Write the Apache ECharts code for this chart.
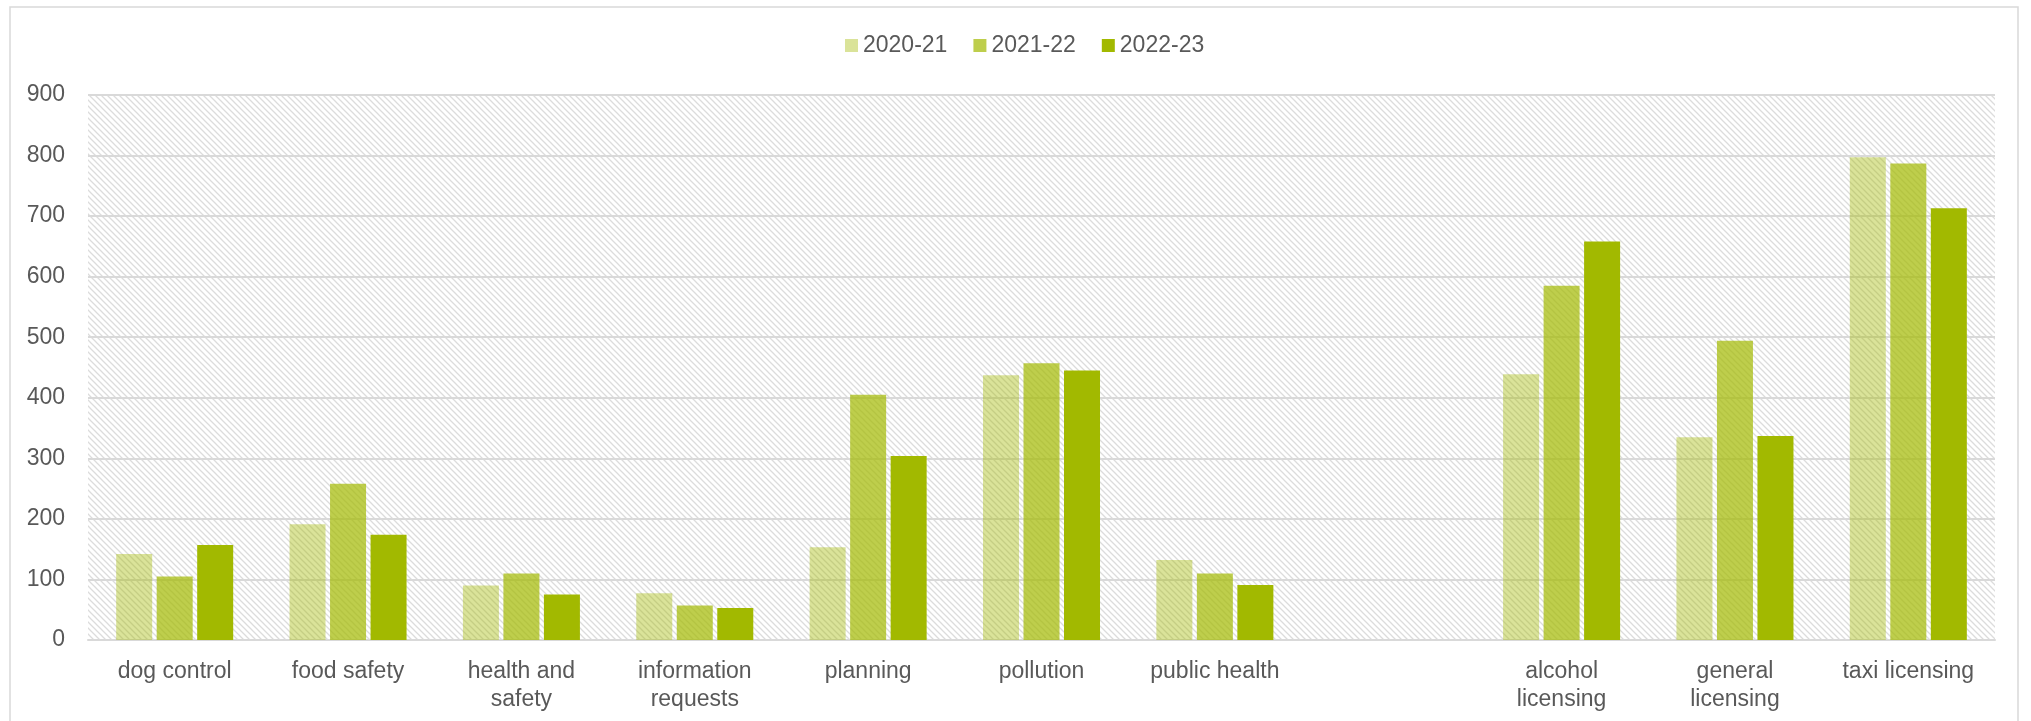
<!DOCTYPE html>
<html>
<head>
<meta charset="utf-8">
<script src="https://cdn.jsdelivr.net/npm/echarts@6/dist/echarts.min.js"></script>
<style>
html,body{margin:0;padding:0;background:#fff;}
#chart{width:2031px;height:721px;}
</style>
</head>
<body>
<div id="chart"></div>
<script>
const categories = ['dog control', 'food safety', 'health and safety', 'information requests', 'planning', 'pollution', 'public health', '', 'alcohol licensing', 'general licensing', 'taxi licensing'];
const tickLabels = ['dog control', 'food safety', 'health and\nsafety', 'information\nrequests', 'planning', 'pollution', 'public health', '', 'alcohol\nlicensing', 'general\nlicensing', 'taxi licensing'];
const seriesNames = ['2020-21', '2021-22', '2022-23'];
const values2020 = [142, 191, 90, 77, 153, 437, 132, null, 439, 335, 797];
const values2021 = [105, 258, 110, 57, 405, 457, 110, null, 585, 494, 787];
const values2022 = [157, 174, 75, 53, 304, 445, 91, null, 658, 337, 713];
const yTicks = [0, 100, 200, 300, 400, 500, 600, 700, 800, 900];

// hatch pattern for plot background
const tile = document.createElement('canvas');
tile.width = 6; tile.height = 6;
const c = tile.getContext('2d');
c.fillStyle = '#ffffff';
c.fillRect(0, 0, 6, 6);
c.strokeStyle = '#dcdcdc';
c.lineWidth = 1.3;
c.beginPath();
c.moveTo(-1, -1); c.lineTo(7, 7);
c.moveTo(-4, 2); c.lineTo(4, 10);
c.moveTo(2, -4); c.lineTo(10, 4);
c.stroke();

const chart = echarts.init(document.getElementById('chart'), null, {renderer: 'canvas'});
const font = 'Liberation Sans, Arial, sans-serif';
const colors = ['rgba(162,185,0,0.4)', 'rgba(162,185,0,0.7)', '#a2b900'];
const allValues = [values2020, values2021, values2022];

chart.setOption({
  animation: false,
  backgroundColor: '#ffffff',
  color: colors,
  graphic: [{
    type: 'rect',
    shape: {x: 10, y: 7, width: 2008, height: 730},
    style: {fill: 'none', stroke: '#d9d9d9', lineWidth: 1.5},
    silent: true
  }],
  legend: {
    left: 840,
    top: 29,
    itemWidth: 13,
    itemHeight: 13,
    itemGap: 26,
    icon: 'rect',
    textStyle: {fontFamily: font, fontSize: 23, color: '#595959'},
    data: seriesNames
  },
  grid: {
    left: 88, right: 36, top: 95, bottom: 81,
    show: true,
    borderWidth: 0,
    backgroundColor: {image: tile, repeat: 'repeat'}
  },
  xAxis: {
    type: 'category',
    data: categories,
    axisLine: {lineStyle: {color: '#d9d9d9', width: 2}},
    axisTick: {show: false},
    axisLabel: {
      interval: 0,
      margin: 18,
      fontFamily: font,
      fontSize: 23,
      lineHeight: 28,
      color: '#595959',
      formatter: (v, i) => tickLabels[i]
    }
  },
  yAxis: {
    type: 'value',
    min: yTicks[0],
    max: yTicks[yTicks.length - 1],
    interval: 100,
    axisLine: {show: false},
    axisTick: {show: false},
    splitLine: {lineStyle: {color: '#d9d9d9', width: 2}},
    axisLabel: {margin: 23, fontFamily: font, fontSize: 23, color: '#595959'}
  },
  series: seriesNames.map((name, i) => ({
    name: name,
    type: 'bar',
    data: allValues[i],
    barGap: '12.5%',
    barCategoryGap: '32.5%',
    itemStyle: {color: colors[i]}
  }))
});
</script>
</body>
</html>
